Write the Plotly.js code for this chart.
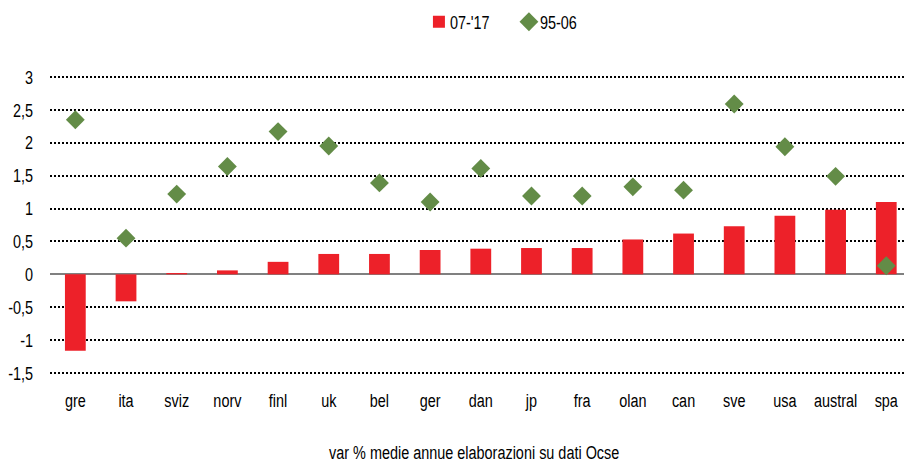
<!DOCTYPE html>
<html>
<head>
<meta charset="utf-8">
<script src="https://cdn.plot.ly/plotly-3.0.1.min.js"></script>
<style>
  body { margin: 0; background: #fff; }
  #chart { width: 904px; height: 466px; }
</style>
</head>
<body>
<div id="chart"></div>
<script>
// Paesi (etichette asse x)
const paesi = ['gre', 'ita', 'sviz', 'norv', 'finl', 'uk', 'bel', 'ger', 'dan', 'jp',
               'fra', 'olan', 'can', 'sve', 'usa', 'austral', 'spa'];

// var % medie annue 2007-2017 (barre)
const val0717 = [-1.16, -0.41, 0.02, 0.06, 0.19, 0.31, 0.31, 0.37, 0.39, 0.40,
                 0.40, 0.53, 0.62, 0.73, 0.89, 0.98, 1.10];

// var % medie annue 1995-2006 (rombi)
const val9506 = [2.35, 0.55, 1.22, 1.64, 2.17, 1.95, 1.39, 1.10, 1.61, 1.19,
                 1.19, 1.33, 1.28, 2.59, 1.94, 1.49, 0.13];

const yTicks = [-1.5, -1, -0.5, 0, 0.5, 1, 1.5, 2, 2.5, 3];
const yTickLabels = ['-1,5', '-1', '-0,5', '0', '0,5', '1', '1,5', '2', '2,5', '3'];

const font = '"Liberation Sans", Arial, sans-serif';
const fontSize = 19;
// il font originale è molto stretto: i testi vengono compressi in orizzontale
const stretto = 0.76;

const barre = {
    type: 'bar',
    name: "07-'17",
    x: paesi,
    y: val0717,
    width: 0.41,
    marker: { color: '#ED2129', line: { width: 0 } }
};

const rombi = {
    type: 'scatter',
    mode: 'markers',
    name: '95-06',
    x: paesi,
    y: val9506,
    cliponaxis: false,
    marker: { symbol: 'diamond', size: 14.5, color: '#638C47' }
};

const layout = {
    width: 904,
    height: 466,
    margin: { l: 50, r: 0, t: 75, b: 91, autoexpand: false },
    paper_bgcolor: '#fff',
    plot_bgcolor: '#fff',
    font: { family: font, size: fontSize, color: '#000' },
    showlegend: true,
    legend: {
        orientation: 'h',
        x: 0.432, xanchor: 'left',
        y: 1.177, yanchor: 'middle',
        font: { family: font, size: fontSize },
        itemwidth: 30,
        entrywidth: 45
    },
    xaxis: {
        type: 'category',
        range: [-0.5, 16.35],
        showgrid: false,
        showline: false,
        zeroline: false,
        ticks: '',
        ticklabelstandoff: 12,
        tickfont: { family: font, size: fontSize },
        fixedrange: true
    },
    yaxis: {
        range: [-1.53, 3.03],
        tickvals: yTicks,
        ticktext: yTickLabels,
        showgrid: true,
        gridcolor: '#000',
        gridwidth: 2,
        griddash: '2px,2px',
        zeroline: true,
        zerolinecolor: '#808080',
        zerolinewidth: 2,
        ticks: '',
        ticklabelstandoff: 16,
        tickfont: { family: font, size: fontSize },
        fixedrange: true
    },
    annotations: [{
        xref: 'paper', yref: 'paper',
        x: 0.497, y: -0.257, xanchor: 'center', yanchor: 'middle',
        showarrow: false,
        text: 'var % medie annue elaborazioni su dati Ocse',
        font: { family: font, size: fontSize }
    }]
};

Plotly.newPlot('chart', [barre, rombi], layout, { displayModeBar: false, staticPlot: true })
    .then(function(gd) {
        // comprime ogni testo attorno al suo punto di ancoraggio
        gd.querySelectorAll('text').forEach(function(t) {
            let x = parseFloat(t.getAttribute('x')) || 0;
            if (t.classList.contains('legendtext')) {
                // testo della legenda più vicino al simbolo
                x -= 9;
                t.setAttribute('x', x);
            }
            const tr = t.getAttribute('transform') || '';
            t.setAttribute('transform',
                tr + ' translate(' + x + ',0) scale(' + stretto + ',1) translate(' + (-x) + ',0)');
        });
    });
</script>
</body>
</html>
